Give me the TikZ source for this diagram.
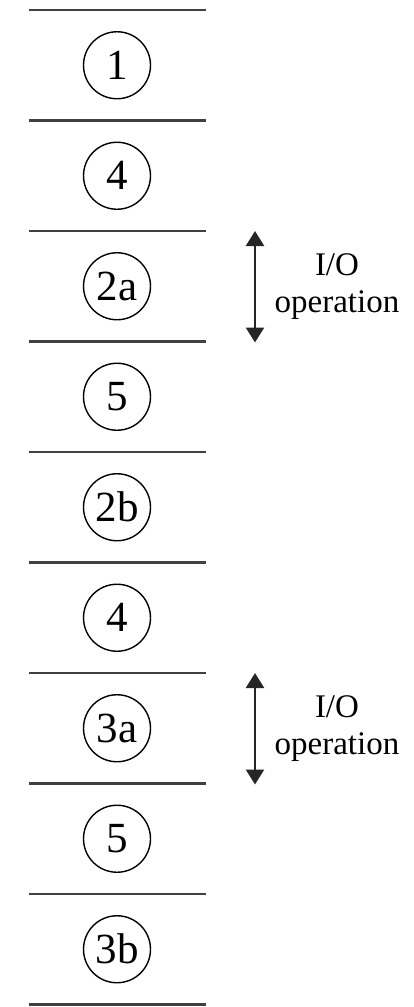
\documentclass[tikz,border=0pt]{standalone}
\usepackage{fontspec}
\setmainfont{Liberation Serif}
\usetikzlibrary{arrows.meta}
\begin{document}
\begin{tikzpicture}[x=1pt,y=-1pt,
  sep/.style={draw=black!75,line width=2.4pt},
  stepnum/.style={circle,draw,line width=1.4pt,minimum size=67pt,inner sep=0pt,
    font=\fontsize{43}{48}\selectfont},
  iolabel/.style={align=center,font=\fontsize{33}{37}\selectfont},
  ioarrow/.style={draw=black!85,line width=2.4pt,
    {Triangle[width=18pt,length=15pt]}-{Triangle[width=18pt,length=15pt]}}]
\useasboundingbox (0,0) rectangle (413,1007);
% separator lines between the steps
\foreach \i in {0,...,9}{
  \draw[sep] (29,{10+110.5*\i}) -- (206,{10+110.5*\i});
}
% numbered steps
\foreach \t [count=\k from 0] in {1,4,2a,5,2b,4,3a,5,3b}{
  \node[stepnum] (s\k) at (117,{65.25+110.5*\k}) {\t};
}
% I/O operations
\coordinate (a1t) at (255,231);
\coordinate (a1b) at (255,342.5);
\draw[ioarrow] (a1t) -- (a1b);
\node[iolabel] (io1) at (337,287) {I/O\\operation};
\coordinate (a2t) at (255,673);
\coordinate (a2b) at (255,784.5);
\draw[ioarrow] (a2t) -- (a2b);
\node[iolabel] (io2) at (337,729) {I/O\\operation};
\end{tikzpicture}
\end{document}
